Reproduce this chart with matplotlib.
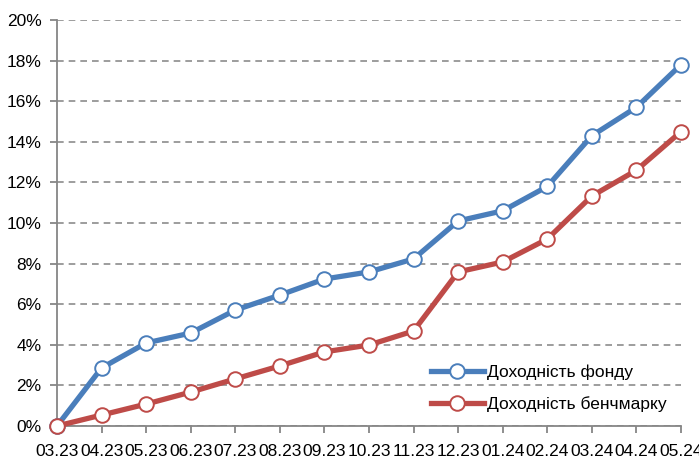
import matplotlib.pyplot as plt
from matplotlib.ticker import FuncFormatter

# data
months = ['03.23', '04.23', '05.23', '06.23', '07.23', '08.23', '09.23', '10.23',
          '11.23', '12.23', '01.24', '02.24', '03.24', '04.24', '05.24']
fund = [0.0, 2.86, 4.09, 4.58, 5.71, 6.45, 7.24, 7.59,
        8.23, 10.1, 10.6, 11.8, 14.3, 15.7, 17.8]
bench = [0.0, 0.54, 1.08, 1.67, 2.32, 2.96, 3.65, 3.99,
         4.68, 7.59, 8.08, 9.21, 11.33, 12.6, 14.5]
yticks = [0, 2, 4, 6, 8, 10, 12, 14, 16, 18, 20]

plt.rcParams['font.family'] = ['Liberation Sans', 'DejaVu Sans']

fig = plt.figure(figsize=(6.99, 4.59), dpi=100)
ax = fig.add_axes([57 / 699, 1 - 426 / 459, 624 / 699, 406 / 459])

x = list(range(len(months)))
blue = '#4A7EBB'
red = '#BE4B48'

ax.plot(x, fund, color=blue, lw=3.8, marker='o', ms=10.5, mfc='white',
        mec=blue, mew=1.4, label='Доходність фонду', zorder=3, clip_on=False)
ax.plot(x, bench, color=red, lw=3.8, marker='o', ms=10.5, mfc='white',
        mec=red, mew=1.4, label='Доходність бенчмарку', zorder=3, clip_on=False)

ax.set_xlim(0, len(months) - 1)
ax.set_ylim(0, 20)
ax.set_yticks(yticks)
ax.yaxis.set_major_formatter(FuncFormatter(lambda v, p: f'{v:.0f}%'))
ax.set_xticks(x)
ax.set_xticklabels(months)

ax.grid(axis='y', color='#8c8c8c', linestyle=(0, (4, 3)), lw=1.2)
ax.set_axisbelow(True)

for s in ['top', 'right']:
    ax.spines[s].set_visible(False)
for s in ['left', 'bottom']:
    ax.spines[s].set_color('#868686')
    ax.spines[s].set_linewidth(1.3)

ax.tick_params(axis='both', colors='#868686', length=5, width=1.3,
               labelcolor='black', labelsize=12.5)
ax.tick_params(axis='x', pad=8)
ax.tick_params(axis='y', pad=6)

ax.legend(loc='lower left', bbox_to_anchor=(0.575, -0.005), frameon=False,
          fontsize=12.5, handlelength=3.0, handletextpad=0.2, labelspacing=0.95)

plt.savefig('out.png', dpi=100)
plt.close()
